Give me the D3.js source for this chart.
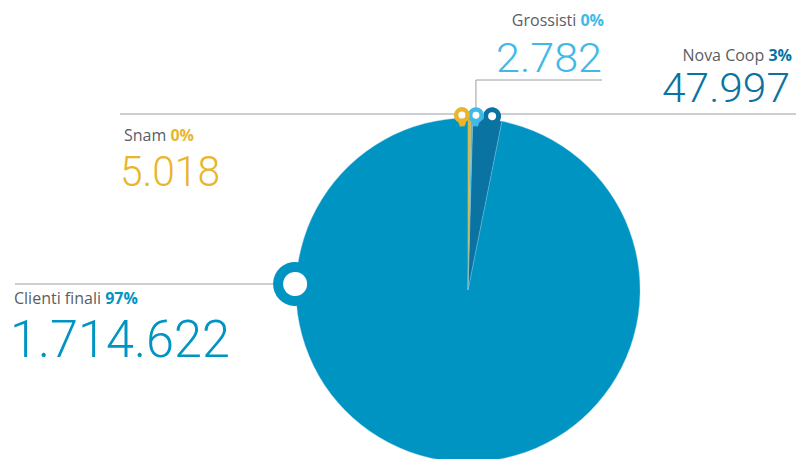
<!DOCTYPE html>
<html>
<head>
<meta charset="utf-8">
<script src="https://cdn.jsdelivr.net/npm/d3@7"></script>
<style>
  html, body { margin: 0; padding: 0; background: #fff; overflow: hidden; }
  svg { display: block; }
</style>
</head>
<body>
<main></main>
<script>
/*** Data ***/
const categories = ["Snam", "Grossisti", "Nova Coop", "Clienti finali"]
const values = [5018, 2782, 47997, 1714622]
const percentLabels = ["0%", "0%", "3%", "97%"]

const colors = ["#e9b52a", "#41b9e6", "#0a73a1", "#0094c3"]

const svgWidth = 796
const svgHeight = 459

const cx = 468
const cy = 290
const radius = 172

// where each pin sits on the rim (degrees, clockwise from 12 o'clock)
const pinAngle = [-2, 2.6, 7.9, 272]
const pinDist = [175, 175, 175.5, 173]
const pinOuter = [8, 8, 9, 22]
const pinInner = [3.5, 3.5, 4, 12]

// label blocks: anchor x, label baseline, number baseline, number size, number width
const labelPos = [
    {x: 120, anchor: "start", ly: 141, ny: 186, size: 42, w: 100},
    {x: 602, anchor: "end", ly: 26, ny: 72, size: 41, w: 106},
    {x: 790, anchor: "end", ly: 61, ny: 102, size: 40, w: 128},
    {x: 10, anchor: "start", ly: 304, ny: 357, size: 52, w: 220}
]

const it = d3.formatLocale({decimal: ",", thousands: ".", grouping: [3], currency: ["€", ""]})
const fmt = it.format(",d")

let svg = d3.select("main")
    .append("svg")
    .attr("width", svgWidth)
    .attr("height", svgHeight)

let table = categories.map((c, i) => ({name: c, value: values[i], pct: percentLabels[i], i: i}))

let pie = d3.pie()
    .sort(null)
    .value(d => d.value)

let arc = d3.arc()
    .innerRadius(0)
    .outerRadius(radius)

let slices = pie(table)

let pinXY = (i) => {
    let a = pinAngle[i] * Math.PI / 180
    return [cx + pinDist[i] * Math.sin(a), cy - pinDist[i] * Math.cos(a)]
}

/* leader lines */
let lines = svg.append("g")
    .attr("stroke", "#9a9ea3")
    .attr("stroke-width", 1)
    .attr("fill", "none")

let p0 = pinXY(0), p1 = pinXY(1), p2 = pinXY(2), p3 = pinXY(3)
lines.append("line").attr("x1", 120).attr("x2", p0[0]).attr("y1", 114).attr("y2", 114)
lines.append("path").attr("d", `M${p1[0]},${p1[1]}V80H602`)
lines.append("line").attr("x1", p2[0]).attr("x2", svgWidth).attr("y1", 114).attr("y2", 114)
lines.append("line").attr("x1", 15).attr("x2", p3[0]).attr("y1", 284).attr("y2", 284)

/* pie */
let graph = svg.append("g")
    .attr("transform", `translate(${cx}, ${cy})`)

// the big slice first, the thin ones on top
let order = [3, 2, 1, 0]
graph.selectAll("path")
    .data(order.map(i => slices[i]))
    .enter()
    .append("path")
    .attr("d", arc)
    .attr("fill", d => colors[d.data.i])
    .attr("stroke", "#7cc3e0")
    .attr("stroke-width", 0.4)

/* pins: a ring plus a short neck that runs into the rim */
let pins = svg.append("g")
    .selectAll("g")
    .data(order.map(i => table[i]))
    .enter()
    .append("g")
    .attr("transform", d => `translate(${pinXY(d.i)[0]}, ${pinXY(d.i)[1]}) rotate(${pinAngle[d.i]})`)

pins.append("path")
    .attr("d", d => {
        let r = pinOuter[d.i]
        let h = r * 1.4
        return `M${-r * 0.75},0 Q${-r * 0.45},${h * 0.7} ${-r * 0.3},${h} L${r * 0.3},${h} Q${r * 0.45},${h * 0.7} ${r * 0.75},0 Z`
    })
    .attr("fill", d => colors[d.i])

pins.append("circle")
    .attr("r", d => pinOuter[d.i])
    .attr("fill", d => colors[d.i])

pins.append("circle")
    .attr("r", d => pinInner[d.i])
    .attr("fill", "white")

/* labels */
let labels = svg.append("g")
    .selectAll("g")
    .data(table)
    .enter()
    .append("g")

let name = labels.append("text")
    .attr("x", d => labelPos[d.i].anchor == "start" ? labelPos[d.i].x + 4 : labelPos[d.i].x + 2)
    .attr("y", d => labelPos[d.i].ly)
    .attr("text-anchor", d => labelPos[d.i].anchor)
    .style("font-family", "'Open Sans', sans-serif")
    .style("font-size", "16px")
    .attr("fill", "#5a5e63")

name.append("tspan")
    .text(d => d.name + " ")

name.append("tspan")
    .attr("fill", d => colors[d.i])
    .style("font-weight", "bold")
    .text(d => d.pct)

labels.append("text")
    .attr("x", d => labelPos[d.i].anchor == "start" ? labelPos[d.i].x : labelPos[d.i].x - labelPos[d.i].w)
    .attr("y", d => labelPos[d.i].ny)
    .attr("textLength", d => labelPos[d.i].w)
    .attr("lengthAdjust", "spacingAndGlyphs")
    .style("font-family", "Roboto, sans-serif")
    .style("font-weight", 300)
    .style("font-size", d => labelPos[d.i].size + "px")
    .attr("fill", d => colors[d.i])
    .text(d => fmt(d.value))
</script>
</body>
</html>
